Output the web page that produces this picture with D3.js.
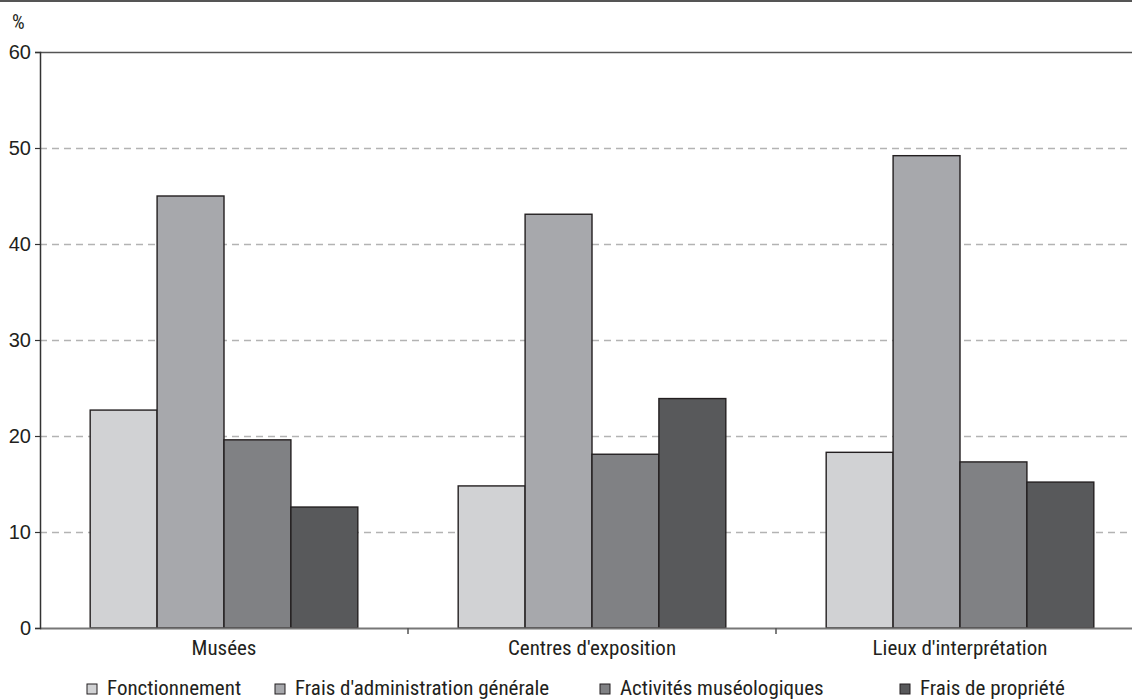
<!DOCTYPE html>
<html><head><meta charset="utf-8">
<script src="https://cdn.jsdelivr.net/npm/d3@7/dist/d3.min.js"></script>
<style>
html,body{margin:0;padding:0;background:#fff;}
svg text{font-family:"Liberation Sans Narrow","Roboto Condensed","Liberation Sans",sans-serif;fill:#231f20;}
</style></head>
<body><svg id="c" width="1132" height="700"></svg>
<script>
const categories = ["Musées", "Centres d'exposition", "Lieux d'interprétation"];
const seriesNames = ["Fonctionnement", "Frais d'administration générale", "Activités muséologiques", "Frais de propriété"];
const fonctionnement = [22.7, 14.8, 18.3];
const administration = [45.0, 43.1, 49.2];
const activites = [19.6, 18.1, 17.3];
const propriete = [12.6, 23.9, 15.2];
const yTicks = [0, 10, 20, 30, 40, 50, 60];
const colors = ["#d1d2d4", "#a7a8ac", "#808184", "#58595b"];
const seriesValues = [fonctionnement, administration, activites, propriete];

(function(){
const svg = d3.select("#c");
const mLeft = 40, mRight = 1144, mTop = 52, mBottom = 628;

const x0 = d3.scaleBand().domain(categories).range([mLeft, mRight]).paddingInner(0).paddingOuter(0);
const x1 = d3.scaleBand().domain(seriesNames).range([0, x0.bandwidth()]).paddingOuter(0.75).paddingInner(0);
const y = d3.scaleLinear().domain([0, 60]).range([mBottom, mTop]);

// top border line
svg.append("line").attr("x1",0).attr("x2",1132).attr("y1",1).attr("y2",1).attr("stroke","#555").attr("stroke-width",2);

// grid
svg.append("g").selectAll("line").data(yTicks.filter(d=>d>0 && d<60)).join("line")
  .attr("x1", mLeft).attr("x2", 1132).attr("y1", d=>y(d)+0.5).attr("y2", d=>y(d)+0.5)
  .attr("stroke","#b3b3b3").attr("stroke-width",1.5).attr("stroke-dasharray","7,5");
// top line at 60
svg.append("line").attr("x1", mLeft).attr("x2", 1132).attr("y1", y(60)+0.5).attr("y2", y(60)+0.5)
  .attr("stroke","#555").attr("stroke-width",1.5);

// bars
const rows = categories.map((c,i)=>({c, vals: seriesNames.map((s,j)=>({s, v: seriesValues[j][i], j}))}));
const g = svg.append("g").selectAll("g").data(rows).join("g").attr("transform", d=>`translate(${x0(d.c)},0)`);
g.selectAll("rect").data(d=>d.vals).join("rect")
  .attr("x", d=>x1(d.s)).attr("width", x1.bandwidth())
  .attr("y", d=>y(d.v)).attr("height", d=>y(0)-y(d.v))
  .attr("fill", d=>colors[d.j]).attr("stroke","#231f20").attr("stroke-width",1.4);

// bottom axis
const xAxis = svg.append("g").attr("transform",`translate(0,${mBottom})`);
xAxis.append("line").attr("x1", mLeft).attr("x2", 1132).attr("y1",0.5).attr("y2",0.5).attr("stroke","#777").attr("stroke-width",2);
xAxis.selectAll("line.t").data(categories.slice(1)).join("line").attr("class","t")
  .attr("x1", d=>x0(d)).attr("x2", d=>x0(d)).attr("y1",0).attr("y2",6).attr("stroke","#555").attr("stroke-width",1.5);
xAxis.selectAll("text").data(categories).join("text")
  .attr("x", d=>x0(d)+x0.bandwidth()/2).attr("y", 27).attr("text-anchor","middle")
  .attr("font-size", 21).text(d=>d);

// left axis
const yAxis = d3.axisLeft(y).tickValues(yTicks).tickSize(5).tickPadding(4);
const ya = svg.append("g").attr("transform",`translate(${mLeft},0)`).call(yAxis);
ya.select(".domain").attr("stroke","#333").attr("stroke-width",1.5);
ya.selectAll(".tick line").attr("stroke","#333").attr("stroke-width",1.2);
ya.selectAll(".tick text").attr("font-size",20).attr("fill","#231f20")
  .style("font-family",'"Liberation Sans Narrow","Liberation Sans",sans-serif');

svg.append("text").attr("x",12).attr("y",29).attr("font-size",20).text("%");

// legend
const legX = [87, 275, 600, 900];
const leg = svg.append("g").selectAll("g").data(seriesNames).join("g")
  .attr("transform",(d,i)=>`translate(${legX[i]},684)`);
leg.append("rect").attr("width",10).attr("height",10).attr("fill",(d,i)=>colors[i]).attr("stroke","#231f20").attr("stroke-width",1);
leg.append("text").attr("x",20).attr("y",11).attr("font-size",21).text(d=>d);
})();
</script></body></html>
